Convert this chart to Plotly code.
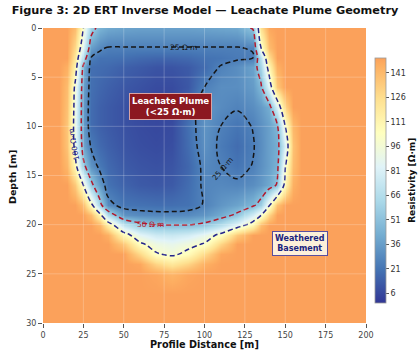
import plotly.graph_objects as go

# ---------------- data ----------------
X_DIST = [0, 10, 15, 20, 25, 30, 35, 40, 50, 60, 70, 80, 90, 100, 110, 120,
          130, 135, 140, 145, 150, 155, 160, 170, 200]
DEPTH = [0, 2, 3, 4, 6, 8, 10, 12, 14, 16, 18, 19, 20, 21, 22, 23, 24, 25, 27, 30]

RHO = [
    [150, 150, 150, 140, 100, 58, 44, 40, 38, 37, 37, 37, 37, 38, 39, 40, 52, 125, 148, 150, 150, 150, 150, 150, 150],
    [150, 150, 150, 128, 84, 36, 28, 24.5, 24.5, 24.5, 24.5, 24.5, 24.5, 24.5, 24.5, 24.5, 26, 100, 140, 150, 150, 150, 150, 150, 150],
    [150, 150, 150, 120, 65, 24, 20, 20, 19, 17, 16, 16, 17, 20, 21, 23, 24, 70, 125, 150, 150, 150, 150, 150, 150],
    [150, 150, 145, 112, 45, 19, 18, 17, 14, 12, 10, 10, 12, 18, 26, 30, 38, 62, 110, 145, 150, 150, 150, 150, 150],
    [150, 150, 140, 95, 38, 19, 16, 14, 11, 9, 7, 7, 11, 25, 30, 30, 35, 47, 85, 135, 150, 150, 150, 150, 150],
    [150, 150, 138, 92, 36, 18, 14, 12, 9, 7, 6, 6, 17, 33, 29, 26, 30, 35, 42, 82, 130, 150, 150, 150, 150],
    [150, 150, 136, 90, 36, 18, 14, 12, 9, 7, 6, 7, 19, 32, 25, 21, 25.5, 31, 37, 46, 100, 142, 150, 150, 150],
    [150, 150, 137, 93, 40, 23, 17, 14, 10, 8, 7, 8, 18, 31, 23, 18, 24, 30, 37, 42, 80, 138, 150, 150, 150],
    [150, 150, 142, 108, 55, 32, 22, 17, 12, 10, 9, 10, 16, 28, 25, 21, 25.5, 31, 37, 44, 98, 140, 150, 150, 150],
    [150, 150, 150, 135, 100, 55, 34, 20, 15, 12, 11, 12, 18, 27, 28, 27, 30, 34, 40, 52, 110, 145, 150, 150, 150],
    [150, 150, 150, 150, 140, 105, 58, 29, 21, 20, 19, 19, 20, 26, 33, 38, 46, 58, 96, 138, 150, 150, 150, 150, 150],
    [150, 150, 150, 150, 150, 140, 108, 65, 32, 29, 28, 28, 29, 33, 41, 53, 78, 98, 130, 150, 150, 150, 150, 150, 150],
    [150, 150, 150, 150, 150, 150, 142, 115, 70, 55, 49, 49, 49, 54, 66, 84, 110, 140, 150, 150, 150, 150, 150, 150, 150],
    [150, 150, 150, 150, 150, 150, 150, 145, 108, 85, 76, 74, 78, 88, 104, 135, 150, 150, 150, 150, 150, 150, 150, 150, 150],
    [150, 150, 150, 150, 150, 150, 150, 150, 135, 104, 92, 88, 94, 102, 130, 150, 150, 150, 150, 150, 150, 150, 150, 150, 150],
    [150, 150, 150, 150, 150, 150, 150, 150, 150, 128, 102, 96, 106, 128, 148, 150, 150, 150, 150, 150, 150, 150, 150, 150, 150],
    [150, 150, 150, 150, 150, 150, 150, 150, 150, 148, 130, 120, 130, 145, 150, 150, 150, 150, 150, 150, 150, 150, 150, 150, 150],
    [150, 150, 150, 150, 150, 150, 150, 150, 150, 150, 148, 143, 148, 150, 150, 150, 150, 150, 150, 150, 150, 150, 150, 150, 150],
    [150] * 25,
    [150] * 25,
]

CONTOUR_LEVELS = [25, 50, 100]
X_TICKS = [0, 25, 50, 75, 100, 125, 150, 175, 200]
Y_TICKS = [0, 5, 10, 15, 20, 25, 30]
CBAR_TICKS = [6, 21, 36, 51, 66, 81, 96, 111, 126, 141]

# ---------------- styling ----------------
FONT = "DejaVu Sans"
cmap_hex = ['#313695', '#4575b4', '#74add1', '#abd9e9', '#e0f3f8',
            '#ffffbf', '#fee090', '#fdae61', '#fba15b']
cmap_pos = [0, 0.1, 0.2, 0.3, 0.4, 0.5, 0.6, 0.7, 0.72]
colorscale = [[p / 0.72, c] for p, c in zip(cmap_pos, cmap_hex)]
level_colors = {25: '#151515', 50: '#b2182b', 100: '#24248c'}

W, H = 418, 354
ML, MR, MT, MB = 43, 51, 28, 31
PW, PH = W - ML - MR, H - MT - MB

fig = go.Figure()
fig.add_trace(go.Heatmap(
    x=X_DIST, y=DEPTH, z=RHO, zmin=0, zmax=150, zsmooth='best',
    colorscale=colorscale, hoverinfo='skip',
    colorbar=dict(
        thickness=11, len=245, lenmode='pixels',
        x=(375 - ML) / PW, xanchor='left', xpad=0,
        y=1 - (180.5 - MT) / PH, yanchor='middle', ypad=0,
        tickvals=CBAR_TICKS, ticks='outside', ticklen=3, tickcolor='#555',
        tickfont=dict(size=8, color='#333', family=FONT),
        outlinewidth=0.8, outlinecolor='#999'),
))

for lev in CONTOUR_LEVELS:
    fig.add_trace(go.Contour(
        x=X_DIST, y=DEPTH, z=RHO, showscale=False, hoverinfo='skip',
        contours=dict(start=lev, end=lev, size=1, coloring='none'),
        line=dict(color=level_colors[lev], width=1.5, dash='5px,3px', smoothing=1),
    ))

shapes = []
for xv in X_TICKS[1:-1]:
    shapes.append(dict(type='line', xref='x', yref='paper', x0=xv, x1=xv, y0=0, y1=1,
                       line=dict(color='rgba(255,255,255,0.28)', width=0.8), layer='above'))
for yv in Y_TICKS[1:-1]:
    shapes.append(dict(type='line', xref='paper', yref='y', x0=0, x1=1, y0=yv, y1=yv,
                       line=dict(color='rgba(255,255,255,0.28)', width=0.8), layer='above'))

annotations = [
    # contour labels
    dict(x=86.8, y=2.0, text='25 Ω·m', textangle=0,
         font=dict(size=7.5, color='#151515', family=FONT)),
    dict(x=111.4, y=14.3, text='25 Ω·m', textangle=-50,
         font=dict(size=7.5, color='#151515', family=FONT)),
    dict(x=66.6, y=19.95, text='50 Ω·m', textangle=0,
         font=dict(size=7.5, color='#b2182b', family=FONT)),
    dict(x=18.8, y=11.8, text='100 Ω·m', textangle=-100,
         font=dict(size=7.5, color='#24248c', family=FONT)),
    # callout boxes
    dict(x=79.1, y=8.0, text='<b>Leachate Plume<br>(<25 Ω·m)</b>',
         font=dict(size=8.6, color='white', family=FONT),
         bgcolor='#8c1820', bordercolor='#d9a3a3', borderwidth=1, borderpad=2),
    dict(x=159.3, y=21.9, text='<b>Weathered<br>Basement</b>',
         font=dict(size=8, color='#1a237e', family=FONT),
         bgcolor='#fdf0da', bordercolor='#5a4e9e', borderwidth=1, borderpad=2),
    # axis titles
    dict(xref='paper', yref='paper', x=0.5, y=-(344 - (MT + PH)) / PH,
         text='<b>Profile Distance [m]</b>', yanchor='middle',
         font=dict(size=9.7, color='#111', family=FONT)),
    dict(xref='paper', yref='paper', x=(12.3 - ML) / PW, y=1 - (176.6 - MT) / PH,
         text='<b>Depth [m]</b>', textangle=-90, xanchor='center', yanchor='middle',
         font=dict(size=9.5, color='#111', family=FONT)),
    dict(xref='paper', yref='paper', x=(412.5 - ML) / PW, y=1 - (180.5 - MT) / PH,
         text='<b>Resistivity [Ω·m]</b>', textangle=-90, xanchor='center', yanchor='middle',
         font=dict(size=9, color='#111', family=FONT)),
]
for a in annotations:
    a.setdefault('xref', 'x')
    a.setdefault('yref', 'y')
    a['showarrow'] = False

fig.update_layout(
    width=W, height=H,
    margin=dict(l=ML, r=MR, t=MT, b=MB),
    paper_bgcolor='white', plot_bgcolor='white',
    font=dict(family=FONT),
    title=dict(text='<b>Figure 3: 2D ERT Inverse Model — Leachate Plume Geometry</b>',
               x=205 / W, xanchor='center', xref='container',
               y=1 - 10.5 / H, yanchor='middle', yref='container',
               font=dict(size=11.3, color='#111', family=FONT)),
    xaxis=dict(range=[0, 200], tickvals=X_TICKS, ticks='outside', ticklen=4,
               tickcolor='#555', tickfont=dict(size=8, color='#444', family=FONT),
               showgrid=False, zeroline=False, showline=False),
    yaxis=dict(range=[30, 0], tickvals=Y_TICKS, ticks='outside', ticklen=4,
               tickcolor='#555', tickfont=dict(size=8, color='#444', family=FONT),
               showgrid=False, zeroline=False, showline=False),
    shapes=shapes, annotations=annotations, showlegend=False,
)

fig.write_html("out.html")
